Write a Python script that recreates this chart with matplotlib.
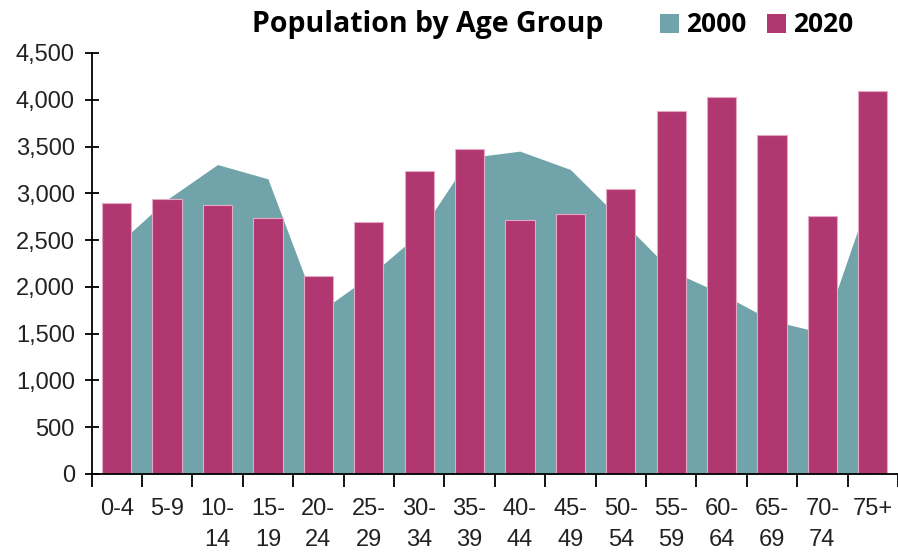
import matplotlib
matplotlib.use("Agg")
import numpy as np
import matplotlib.pyplot as plt
from matplotlib.patches import Patch

# --- data ----------------------------------------------------------------
age_groups = ["0-4", "5-9", "10-\n14", "15-\n19", "20-\n24", "25-\n29", "30-\n34",
              "35-\n39", "40-\n44", "45-\n49", "50-\n54", "55-\n59", "60-\n64",
              "65-\n69", "70-\n74", "75+"]
pop_2000 = [2446, 2934, 3308, 3155, 1724, 2109, 2570, 3383,
            3451, 3255, 2719, 2173, 1927, 1638, 1510, 3073]
pop_2020 = [2900, 2944, 2880, 2733, 2120, 2690, 3244, 3476,
            2712, 2776, 3051, 3879, 4029, 3622, 2755, 4090]
y_ticks = [0, 500, 1000, 1500, 2000, 2500, 3000, 3500, 4000, 4500]

TEAL = "#71a4aa"
MAGENTA = "#b03770"
HEAD_FONT = ["Open Sans", "DejaVu Sans"]

plt.rcParams["font.family"] = ["Liberation Sans", "DejaVu Sans"]

fig = plt.figure(figsize=(8.98, 5.57), dpi=100)
ax = fig.add_axes([91.5 / 898, 1 - 474 / 557, 1 - 91.5 / 898, (474 - 53) / 557])

x = np.arange(len(age_groups))

# 2000 as a filled area behind, 2020 as bars on top
ax.fill_between(x, 0, pop_2000, color=TEAL, linewidth=0, zorder=1)
ax.bar(x, pop_2020, width=0.58, color=MAGENTA, edgecolor="#e6a9c4",
       linewidth=0.8, zorder=2)

ax.set_xlim(-0.5, len(age_groups) - 0.5)
ax.set_ylim(0, 4500)

# y axis: ticks cross the spine
ax.set_yticks(y_ticks)
ax.set_yticklabels([f"{v:,}" for v in y_ticks])
ax.tick_params(axis="y", direction="inout", length=10, width=1.3,
               labelsize=17, labelcolor="#222222", pad=7)

# x axis: tick marks between groups, labels centred on groups
ax.set_xticks(np.arange(-0.5, len(age_groups), 1.0))
ax.set_xticklabels([])
ax.set_xticks(x, minor=True)
ax.set_xticklabels(age_groups, minor=True, linespacing=1.55)
ax.tick_params(axis="x", which="major", direction="out", length=9, width=1.3)
ax.tick_params(axis="x", which="minor", length=0, labelsize=17,
               labelcolor="#222222", pad=17)

for side in ["top", "right"]:
    ax.spines[side].set_visible(False)
for side in ["left", "bottom"]:
    ax.spines[side].set_linewidth(1.3)

# title and legend at the top
fig.text(428 / 898, 1 - 32 / 557, "Population by Age Group", ha="center",
         va="baseline", fontsize=20.5, fontweight="bold", family=HEAD_FONT)
handles = [Patch(facecolor=TEAL, label="2000"), Patch(facecolor=MAGENTA, label="2020")]
fig.legend(handles=handles, loc="center left", bbox_to_anchor=(660 / 898, 1 - 25 / 557),
           ncol=2, frameon=False, handlelength=0.72, handleheight=0.72,
           handletextpad=0.25, columnspacing=0.8, borderaxespad=0, borderpad=0,
           prop={"family": HEAD_FONT, "weight": "bold", "size": 19})

fig.savefig("out.png", dpi=100)
